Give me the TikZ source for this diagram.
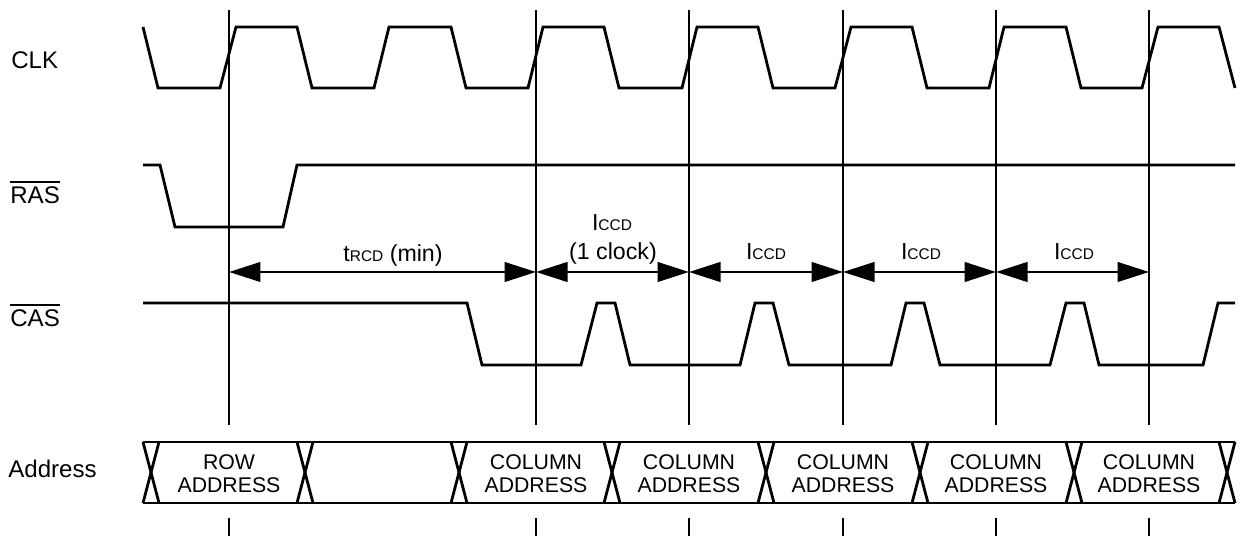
\documentclass[tikz,border=0pt]{standalone}
\usepackage{fontspec}
\setmainfont{Liberation Sans}
\usetikzlibrary{arrows.meta}
\newcommand{\ovl}[1]{\vbox{\hrule height 0.9pt\kern 2.6pt\hbox{#1}}}
\newcommand{\sml}[1]{{\fontsize{8.8}{10}\selectfont #1}}
\tikzset{
  wave/.style={line width=0.056cm, line join=miter},
  sig/.style={anchor=base west, inner sep=0pt, font=\fontsize{13.7}{16}\selectfont},
  tim/.style={anchor=base, inner sep=0pt, font=\fontsize{13.2}{15}\selectfont},
  bus/.style={inner sep=0pt, align=center, font=\fontsize{12.1}{13.2}\selectfont},
  dim/.style={line width=0.056cm, {Triangle[length=0.63cm,width=0.39cm]}-{Triangle[length=0.63cm,width=0.39cm]}}
}
\begin{document}
\begin{tikzpicture}[x=0.02cm, y=-0.02cm]
\useasboundingbox (0,0) rectangle (1240,536);
% signal names
\node[sig] (clk) at (11,69) {CLK};
\node[sig] (ras) at (10,204) {\ovl{RAS}};
\node[sig] (cas) at (10,327) {\ovl{CAS}};
\node[sig] (addr) at (8,478) {Address};
% reference lines
\foreach \x [count=\i] in {229,536,689,843,996,1149} {
  \coordinate (t\i) at (\x,10);
  \coordinate (b\i) at (\x,425);
  \coordinate (m\i) at (\x,272);
  \coordinate (k\i) at (\x,518);
  \coordinate (e\i) at (\x,536);
}
\foreach \i in {1,...,6} {
  \draw[wave] (t\i) -- (b\i);
  \draw[wave] (k\i) -- (e\i);
}
% CLK
\draw[wave] (143,27) -- (158,88) -- (220,88) -- (236,27) -- (297,27) -- (312,88)
  -- (374,88) -- (389,27) -- (451,27) -- (466,88) -- (528,88) -- (543,27)
  -- (604,27) -- (619,88) -- (682,88) -- (697,27) -- (758,27) -- (773,88)
  -- (835,88) -- (851,27) -- (912,27) -- (927,88) -- (989,88) -- (1004,27)
  -- (1066,27) -- (1081,88) -- (1142,88) -- (1158,27) -- (1219,27) -- (1235,88);
% RAS
\draw[wave] (143,165) -- (160,165) -- (175,227) -- (283,227) -- (297,165) -- (1235,165);
% CAS
\draw[wave] (143,303) -- (467,303) -- (482,365) -- (581,365) -- (597,303) -- (615,303)
  -- (630,365) -- (740,365) -- (755,303) -- (773,303) -- (789,365) -- (891,365)
  -- (906,303) -- (924,303) -- (940,365) -- (1050,365) -- (1066,303) -- (1084,303)
  -- (1099,365) -- (1203,365) -- (1218,303) -- (1235,303);
% Address bus
\draw[wave] (143,442) -- (1235,442);
\draw[wave] (143,503) -- (1235,503);
\foreach \a in {143,297,451,604,758,912,1066,1219} {
  \draw[wave] (\a,442) -- (\a+16,503);
  \draw[wave] (\a,503) -- (\a+16,442);
}
\node[bus] (row) at (229,473.5) {ROW\\ADDRESS};
\foreach \x [count=\i] in {536,689,843,996,1149} {
  \node[bus] (col\i) at (\x,473.5) {COLUMN\\ADDRESS};
}
% timing arrows
\draw[dim] (m1) -- (m2);
\draw[dim] (m2) -- (m3);
\draw[dim] (m3) -- (m4);
\draw[dim] (m4) -- (m5);
\draw[dim] (m5) -- (m6);
\node[tim] (trcd) at (393,262) {t\sml{RCD} (min)};
\node[tim] (ccd1) at (612,231) {I\sml{CCD}};
\node[tim] (oneclk) at (613,260) {(1 clock)};
\node[tim] (ccd2) at (766,260) {I\sml{CCD}};
\node[tim] (ccd3) at (921,260) {I\sml{CCD}};
\node[tim] (ccd4) at (1074,260) {I\sml{CCD}};
\end{tikzpicture}
\end{document}
